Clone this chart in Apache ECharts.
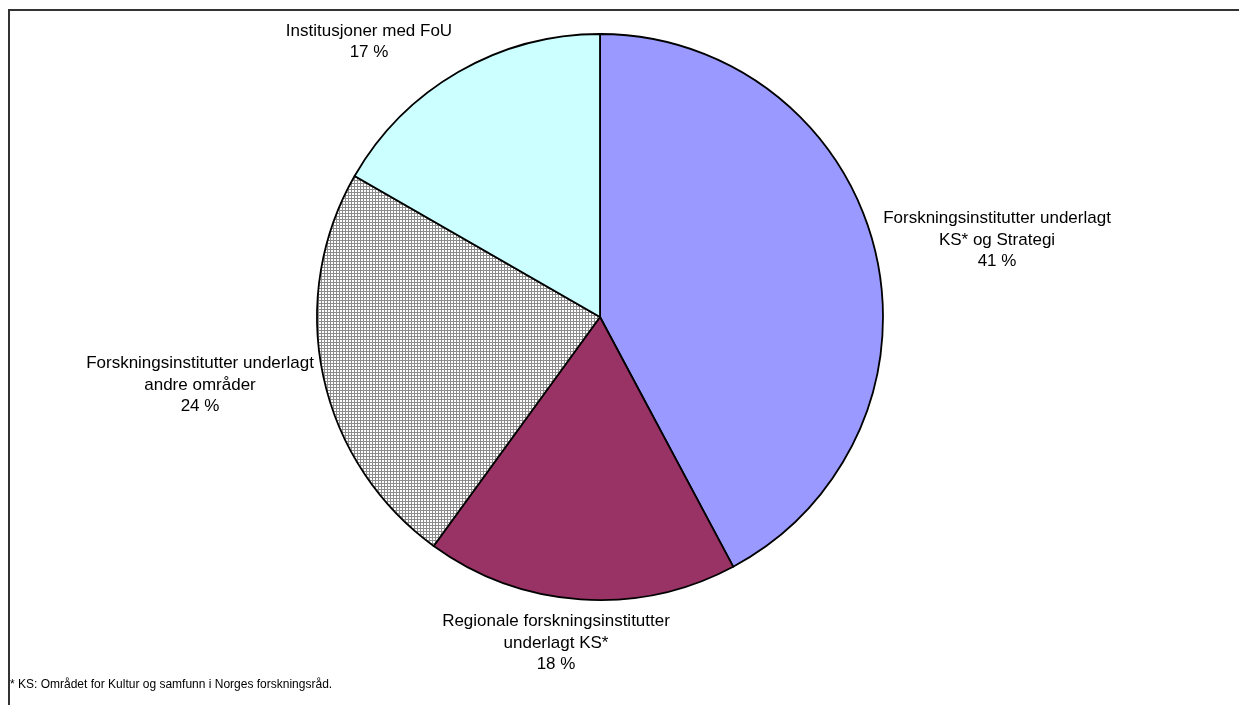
<!DOCTYPE html>
<html>
<head>
<meta charset="utf-8">
<script src="https://cdn.jsdelivr.net/npm/echarts@6/dist/echarts.min.js"></script>
<style>
html,body{margin:0;padding:0;background:#fff;}
#chart{width:1239px;height:705px;}
</style>
</head>
<body>
<div id="chart"></div>
<script>
// ---- data ----
var categories = [
  "Forskningsinstitutter underlagt\nKS* og Strategi",
  "Regionale forskningsinstitutter\nunderlagt KS*",
  "Forskningsinstitutter underlagt\nandre områder",
  "Institusjoner med FoU"
];
// slice shares as drawn (angles, in %)
var shares = [42.2, 17.8, 23.3, 16.7];
// percentages as printed on the labels
var pctLabels = [41, 18, 24, 17];
var footnote = "* KS: Området for Kultur og samfunn i Norges forskningsråd.";

// ---- styling / layout ----
var sliceColors = ['#9999FF', '#993366', null, '#CCFFFF'];
var labelCenters = [[997, 240], [556, 643], [200, 385], [369, 42]];

function makeHatch() {
  var c = document.createElement('canvas');
  c.width = 3; c.height = 3;
  var g = c.getContext('2d');
  g.fillStyle = '#ffffff';
  g.fillRect(0, 0, 3, 3);
  g.fillStyle = '#8c8c8c';
  g.fillRect(0, 0, 3, 1);
  g.fillRect(0, 0, 1, 3);
  return c;
}
var hatch = makeHatch();

var seriesData = categories.map(function (name, i) {
  return {
    name: name,
    value: shares[i],
    itemStyle: {
      color: sliceColors[i] ? sliceColors[i] : { image: hatch, repeat: 'repeat' }
    },
    label: { formatter: name + '\n' + pctLabels[i] + ' %' }
  };
});

var chart = echarts.init(document.getElementById('chart'), null, { renderer: 'canvas' });
chart.setOption({
  backgroundColor: '#ffffff',
  animation: false,
  graphic: [
    {
      type: 'rect',
      shape: { x: 9, y: 10, width: 1400, height: 900 },
      style: { fill: 'none', stroke: '#333333', lineWidth: 2 },
      silent: true, z: 0
    },
    {
      type: 'text',
      left: 10, top: 679,
      style: {
        text: footnote,
        font: '12px "Liberation Sans", Arial, sans-serif',
        fill: '#000000'
      },
      z: 10
    }
  ],
  series: [{
    type: 'pie',
    center: [600, 317],
    radius: 283,
    startAngle: 90,
    clockwise: true,
    silent: true,
    avoidLabelOverlap: false,
    itemStyle: { borderColor: '#000000', borderWidth: 1.8 },
    label: {
      show: true,
      position: 'outside',
      color: '#000000',
      fontFamily: '"Liberation Sans", Arial, sans-serif',
      fontSize: 17,
      lineHeight: 21.5,
      align: 'center'
    },
    labelLine: { show: false },
    labelLayout: function (p) {
      var c = labelCenters[p.dataIndex];
      return { x: c[0], y: c[1], align: 'center', verticalAlign: 'middle' };
    },
    data: seriesData
  }]
});
</script>
</body>
</html>
